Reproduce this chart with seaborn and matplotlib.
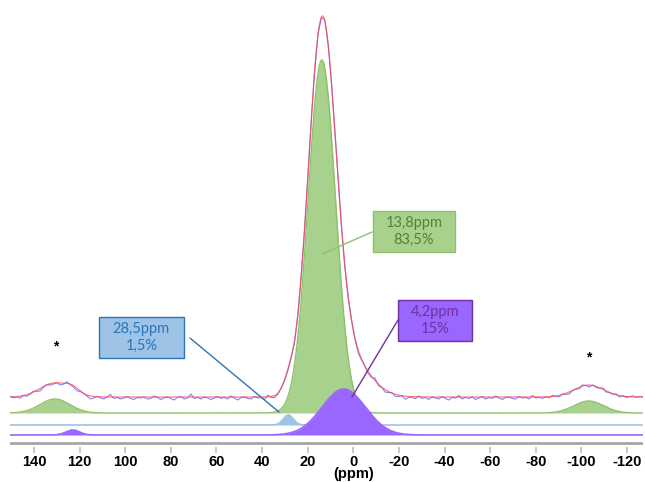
import numpy as np
import matplotlib
matplotlib.use("Agg")
import matplotlib.pyplot as plt
from matplotlib.patches import Rectangle
import seaborn as sns

# Deconvolution components: centre (ppm), height, gaussian width sigma (ppm)
green_ppm = [13.8, 130.8, -103.2]
green_height = [353, 14, 12]
green_sigma = [6.0, 6.5, 6.5]

blue_ppm = [28.5]
blue_height = [10]
blue_sigma = [2.2]

purple_ppm = [4.2, 123.0]
purple_height = [46, 5]
purple_sigma = [9.5, 3.0]

# noise of the measured trace around the fit, read left (150 ppm) to right (-127 ppm)
exp_noise = [
    0.5, -1.0, -0.5, -2.0, 0.0, -1.5, -0.5, 1.0, -1.0, -2.5,
    -0.5, 0.5, -1.5, -1.0, 0.0, -2.0, -1.0, 1.5, -0.5, -1.5,
    -2.5, -0.5, 0.0, -1.0, -3.0, -1.5, 0.5, -1.0, -2.0, 0.0,
    2.5, -1.5, -0.5, -2.0, -1.0, 0.5, -1.5, -2.5, -0.5, -1.0,
    0.0, -2.0, -1.5, 1.0, -0.5, -2.5, -1.0, 0.0, -1.5, -3.0,
    -0.5, 0.5, -2.0, -1.0, 3.0, -1.5, -0.5, -2.0, 0.0, -1.0,
    -2.5, -1.0, 0.5, -1.5, -0.5, -2.0, 1.0, -1.0, -3.0, -0.5,
    0.0, -1.5, -2.0, 0.5, -1.0, -0.5, -2.5, 1.5, -1.0, -2.0,
    -0.5, 0.5, -1.0, -1.5, 0.0, -2.0, -0.5, 1.0, -1.5, -0.5,
    0.0, -1.0, 0.5, -0.5, 1.0, -0.5, 0.0, -1.0, 0.5, -1.5,
    -2.0, -0.5, 1.0, -1.5, -3.0, -1.0, 0.0, -2.0, -1.0, 2.5,
    -1.5, -0.5, -2.5, -1.0, 0.5, -2.0, -1.5, 0.0, -3.0, -1.0,
    -0.5, -2.0, 1.0, -1.5, -0.5, -2.5, 0.0, -1.0, -2.0, 0.5,
    -1.5, -3.0, -0.5, -1.0, 1.5, -2.0, -0.5, -1.5, 0.0, -2.5,
    -1.0, 0.5, -2.0, -0.5, -1.5, 1.0, -1.0, -2.5, -0.5, 0.0,
    -1.5, -2.0, 0.5, -1.0, -0.5, -2.0, 1.5, -1.0, -0.5, -1.5,
    0.0, -1.0, 1.0, -0.5, -1.5, 0.5, -1.0, -2.0, 0.0, -0.5,
    -1.5, 1.0, -0.5, -2.0, 0.5, -1.0, -0.5, 1.5, -1.0, 0.0,
    -0.5, 1.0, -1.5, 0.5, -1.0, 0.0, 1.0, -0.5, 0.5, 0.0,
]

tick_ppm = [140, 120, 100, 80, 60, 40, 20, 0, -20, -40, -60, -80, -100, -120]
# the unit sits right under the 0 tick
tick_labels = [str(t) if t != 0 else "0\n(ppm)" for t in tick_ppm]

peak_labels = ["28,5ppm\n1,5%", "13,8ppm\n83,5%", "4,2ppm\n15%"]

# vertical stacking of the traces
spec_base, green_base, blue_base, purple_base = 50, 34, 22, 12


def lineshape(x, centres, heights, sigmas):
    y = np.zeros_like(x)
    for c, h, s in zip(centres, heights, sigmas):
        y += h * np.exp(-(x - c) ** 2 / (2 * s ** 2))
    return y


def total_fit(x):
    return (lineshape(x, green_ppm, green_height, green_sigma)
            + lineshape(x, blue_ppm, blue_height, blue_sigma)
            + lineshape(x, purple_ppm, purple_height, purple_sigma))


sns.set_theme(style="white")
plt.rcParams['font.family'] = ['Liberation Sans', 'DejaVu Sans']

fig = plt.figure(figsize=(6.45, 4.82), dpi=100)
ax = fig.add_axes([10 / 645, 35 / 482, 633 / 645, 447 / 482])
ax.set_xlim(150.5, -127)
ax.set_ylim(0, 447)

x = np.linspace(150.5, -127, 2000)

# components
g = lineshape(x, green_ppm, green_height, green_sigma)
ax.fill_between(x, green_base, green_base + g, color='#a9d18e', lw=0, zorder=2)
sns.lineplot(x=x, y=green_base + g, ax=ax, color='#8cc168', lw=1, sort=False, zorder=2)

b = lineshape(x, blue_ppm, blue_height, blue_sigma)
ax.fill_between(x, blue_base, blue_base + b, color='#9dc3e6', lw=0, zorder=3)
sns.lineplot(x=x, y=blue_base + b, ax=ax, color='#9dc3e6', lw=1.2, sort=False, zorder=3)

p = lineshape(x, purple_ppm, purple_height, purple_sigma)
ax.fill_between(x, purple_base, purple_base + p, color='#9966ff', lw=0, zorder=4)
sns.lineplot(x=x, y=purple_base + p, ax=ax, color='#9966ff', lw=1.2, sort=False, zorder=4)

# measured spectrum and fit
exp_ppm = np.linspace(150.5, -127, len(exp_noise))
exp_y = spec_base + total_fit(exp_ppm) + np.array(exp_noise)
sns.lineplot(x=exp_ppm, y=exp_y, ax=ax, color='#4d4dff', lw=0.8, alpha=0.7,
             sort=False, zorder=5)
sns.lineplot(x=x, y=spec_base + total_fit(x), ax=ax, color='#ff4040', lw=0.9,
             alpha=0.7, sort=False, zorder=5)

# labels: centre ppm, centre y, width ppm, height, leader line start/end
boxes = [
    (92.9, 109.5, 37.3, 41, (71.6, 109), (32.6, 35), '#9dc3e6', '#2e75b6', '#2e75b6'),
    (-26.6, 215.5, 36.0, 41, (-8.2, 215), (13.7, 193), '#a9d18e', '#8cc168', '#548235'),
    (-35.8, 126.5, 32.4, 41, (-19.6, 127), (0.6, 50), '#9966ff', '#7030a0', '#7030a0'),
]
for (cx, cy, w, h, p0, p1, fc, ec, tc), txt in zip(boxes, peak_labels):
    ax.add_patch(Rectangle((cx - w / 2, cy - h / 2), w, h, facecolor=fc,
                           edgecolor=ec, lw=1, zorder=7))
    ax.plot([p0[0], p1[0]], [p0[1], p1[1]], color=ec, lw=1, zorder=7)
    ax.text(cx, cy, txt, ha='center', va='center', fontsize=10.5,
            family=['Lato', 'DejaVu Sans'], color=tc, linespacing=1.3, zorder=8)

# spinning sidebands
for xs, ys in [(130.3, 101), (-103.4, 90)]:
    ax.text(xs, ys, '*', ha='center', va='center', fontsize=10,
            fontweight='bold', color='black')

# axis
ax.axhline(4, color='#a6a6a6', lw=2, zorder=1)
for s in ax.spines.values():
    s.set_visible(False)
ax.set_yticks([])
ax.set_xticks(tick_ppm, tick_labels)
ax.tick_params(axis='x', bottom=True, length=4.5, width=1.2, color='#bfbfbf',
               pad=1.5, labelsize=10.5, labelcolor='black')
for lbl in ax.get_xticklabels():
    lbl.set_fontweight('bold')
    lbl.set_linespacing(0.78)
ax.set_xlabel('')
ax.set_ylabel('')

fig.savefig('out.png', dpi=100)
